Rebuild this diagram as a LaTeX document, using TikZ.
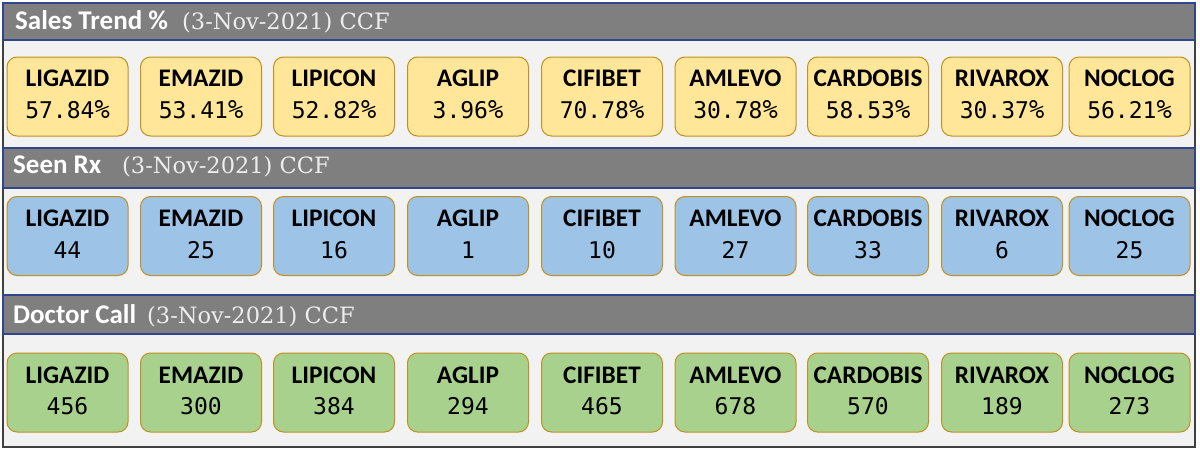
\documentclass[tikz,border=0pt]{standalone}
\usepackage{fontspec}
\setmainfont{Carlito}
\newfontfamily\valfont{DejaVu Sans Mono}
\newfontfamily\datefont{DejaVu Serif}
\usetikzlibrary{positioning}
\definecolor{hdrgray}{HTML}{7F7F7F}
\definecolor{hdrline}{RGB}{47,70,140}
\definecolor{panelbg}{HTML}{F2F2F2}
\definecolor{framecol}{HTML}{404040}
\definecolor{ylwfill}{HTML}{FFE699}
\definecolor{bluefill}{HTML}{9DC3E6}
\definecolor{grnfill}{HTML}{A9D18E}
\definecolor{cardline}{HTML}{C09020}
\definecolor{datecol}{HTML}{EDEDED}
\newcommand{\pct}{\scalebox{1.1}[1.12]{\%}}
\begin{document}
\begin{tikzpicture}[x=1pt, y=-1pt,
	card/.style={draw=cardline, line width=1pt, rounded corners=10pt,
		minimum width=121pt, minimum height=79pt, inner sep=0pt},
	nm/.style={anchor=base, inner sep=0pt, font=\fontsize{25.3}{25}\selectfont\bfseries},
	val/.style={anchor=base, inner sep=0pt, font=\fontsize{23}{23}\selectfont\valfont},
	ttl/.style={anchor=base west, inner sep=0pt, text=white,
		font=\fontsize{27}{27}\selectfont\bfseries},
	dte/.style={anchor=base west, inner sep=0pt, text=datecol,
		font=\fontsize{22.5}{22.5}\selectfont\datefont},
	hdr/.style={fill=hdrgray, draw=hdrline, line width=1.2pt},
	pnl/.style={fill=panelbg, draw=framecol, line width=1.4pt}]
	\useasboundingbox (0,0) rectangle (1200,450);
	% panels and header bars
	\filldraw[pnl] (3,40) rectangle (1195,148);
	\filldraw[pnl] (3,188) rectangle (1195,295);
	\filldraw[pnl] (3,334) rectangle (1195,447);
	\filldraw[hdr] (3,3) rectangle (1195,40);
	\filldraw[hdr] (3,148) rectangle (1195,188);
	\filldraw[hdr] (3,295) rectangle (1195,334);
	\node[ttl] (t1) at (15,29.5) {Sales Trend \%};
	\node[dte] (d1) at (182,29.5) {(3-Nov-2021) CCF};
	\node[ttl] (t2) at (13,173.5) {Seen Rx};
	\node[dte] (d2) at (122,173.5) {(3-Nov-2021) CCF};
	\node[ttl] (t3) at (13,323) {Doctor Call};
	\node[dte] (d3) at (147,323) {(3-Nov-2021) CCF};
	% product cards
	\foreach \cx/\pname/\va/\vb/\vc [count=\i] in {
		67.5/LIGAZID/57.84/44/456, 201/EMAZID/53.41/25/300,
		334/LIPICON/52.82/16/384, 468/AGLIP/3.96/1/294,
		602/CIFIBET/70.78/10/465, 735.5/AMLEVO/30.78/27/678,
		868/CARDOBIS/58.53/33/570, 1002/RIVAROX/30.37/6/189,
		1129.5/NOCLOG/56.21/25/273}{
		\node[card, fill=ylwfill] (st\i) at (\cx,96.5) {};
		\node[nm] (stn\i) at ([yshift=10pt]st\i.center) {\pname};
		\node[val] (stv\i) at ([yshift=-22pt]st\i.center) {\va\pct};
		\node[card, fill=bluefill] (rx\i) at (\cx,236) {};
		\node[nm] (rxn\i) at ([yshift=10pt]rx\i.center) {\pname};
		\node[val] (rxv\i) at ([yshift=-22pt]rx\i.center) {\vb};
		\node[card, fill=grnfill] (dc\i) at (\cx,392.5) {};
		\node[nm] (dcn\i) at ([yshift=9.5pt]dc\i.center) {\pname};
		\node[val] (dcv\i) at ([yshift=-21.5pt]dc\i.center) {\vc};
	}
\end{tikzpicture}
\end{document}
